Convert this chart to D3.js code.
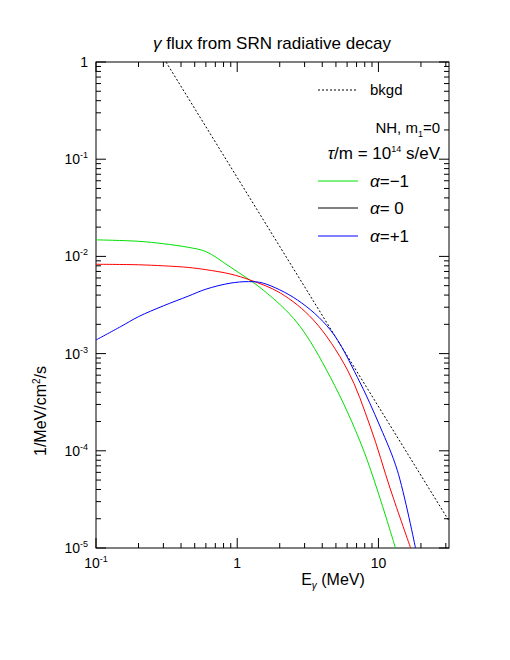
<!DOCTYPE html>
<html><head><meta charset="utf-8">
<script src="https://cdn.jsdelivr.net/npm/d3@7"></script>
<style>body{margin:0;background:#fff}text{font-family:"Liberation Sans",Arial,sans-serif}</style>
</head><body>
<svg id="fig" width="510" height="660"></svg>
<script>
// values
var bkgdE = [0.313, 31.6], bkgdF = [1, 1.9e-5];
var greenE = [0.1, 0.2, 0.3, 0.45, 0.6, 0.89, 1.53, 2.67, 4.57, 7.83, 13.2];
var greenF = [0.0148, 0.0143, 0.0135, 0.0124, 0.0112, 7.8e-3, 4.5e-3, 2.06e-3, 5.7e-4, 1.02e-4, 1.0e-5];
var redE = [0.1, 0.2, 0.3, 0.45, 0.6, 0.89, 1.24, 2.02, 3.46, 6.03, 8.77, 12.2, 16.9];
var redF = [0.0083, 0.0082, 0.0080, 0.0077, 0.0073, 6.6e-3, 5.7e-3, 4.2e-3, 2.22e-3, 6.8e-4, 1.76e-4, 3.95e-5, 1.0e-5];
var blueE = [0.1, 0.15, 0.2, 0.3, 0.45, 0.6, 0.89, 1.2, 1.53, 2.67, 4.57, 7.1, 10.3, 13.6, 18.3];
var blueF = [0.00138, 0.0019, 0.0024, 0.0031, 0.0039, 0.0046, 5.3e-3, 5.5e-3, 5.3e-3, 3.56e-3, 1.75e-3, 5.7e-4, 1.76e-4, 6.3e-5, 1.0e-5];
var xTicks = [0.1, 1, 10], yTicks = [1, 0.1, 0.01, 1e-3, 1e-4, 1e-5];

var svg = d3.select("#fig"),
    L = 96, R = 449, T = 62, B = 548;
var x = d3.scaleLog().domain([0.1, 31.6]).range([L, R]),
    y = d3.scaleLog().domain([1e-5, 1]).range([B, T]);

svg.append("rect").attr("x", L).attr("y", T).attr("width", R - L).attr("height", B - T)
  .attr("fill", "none").attr("stroke", "#000");

var g = svg.append("g");
x.ticks().forEach(function(t) {
  var major = xTicks.indexOf(t) >= 0, len = major ? 10 : 5;
  g.append("line").attr("x1", x(t)).attr("x2", x(t)).attr("y1", B).attr("y2", B - len).attr("stroke", "#000");
  g.append("line").attr("x1", x(t)).attr("x2", x(t)).attr("y1", T).attr("y2", T + len).attr("stroke", "#000");
});
y.ticks().forEach(function(t) {
  var major = yTicks.some(function(v) { return Math.abs(v - t) / v < 1e-6; }), len = major ? 10 : 5;
  g.append("line").attr("x1", L).attr("x2", L + len).attr("y1", y(t)).attr("y2", y(t)).attr("stroke", "#000");
  g.append("line").attr("x1", R).attr("x2", R - len).attr("y1", y(t)).attr("y2", y(t)).attr("stroke", "#000");
});

function pow10(sel, e) {
  sel.append("tspan").text("10");
  sel.append("tspan").attr("dy", -6).attr("font-size", 9).text(e);
}
xTicks.forEach(function(t) {
  var tx = svg.append("text").attr("x", x(t)).attr("y", B + 20).attr("text-anchor", "middle").attr("font-size", 14);
  if (t === 1) tx.text("1"); else if (t === 10) tx.text("10"); else pow10(tx, "-1");
});
yTicks.forEach(function(t) {
  var tx = svg.append("text").attr("x", L - 8).attr("y", y(t) + 5).attr("text-anchor", "end").attr("font-size", 14);
  if (t === 1) tx.text("1"); else pow10(tx, String(Math.round(Math.log10(t))));
});

var line = d3.line().x(function(d) { return x(d[0]); }).y(function(d) { return y(d[1]); }).curve(d3.curveCatmullRom.alpha(0.5));
function series(E, F) { return E.map(function(e, i) { return [e, F[i]]; }); }
var plot = svg.append("g");
plot.append("clipPath").attr("id", "clip").append("rect").attr("x", L).attr("y", T).attr("width", R - L).attr("height", B - T);
var c = plot.append("g").attr("clip-path", "url(#clip)");
c.append("path").attr("d", line(series(bkgdE, bkgdF))).attr("fill", "none").attr("stroke", "#000").attr("stroke-dasharray", "2,2");
c.append("path").attr("d", line(series(greenE, greenF))).attr("fill", "none").attr("stroke", "#00e000");
c.append("path").attr("d", line(series(redE, redF))).attr("fill", "none").attr("stroke", "#ff0000");
c.append("path").attr("d", line(series(blueE, blueF))).attr("fill", "none").attr("stroke", "#0000ff");

// legend
svg.append("line").attr("x1", 318).attr("x2", 358).attr("y1", 90).attr("y2", 90).attr("stroke", "#000").attr("stroke-dasharray", "2,2");
svg.append("text").attr("x", 370).attr("y", 95).attr("font-size", 15).text("bkgd");
var t1 = svg.append("text").attr("x", 440).attr("y", 133).attr("text-anchor", "end").attr("font-size", 15);
t1.append("tspan").text("NH, m");
t1.append("tspan").attr("dy", 4).attr("font-size", 9).text("1");
t1.append("tspan").attr("dy", -4).text("=0");
var t2 = svg.append("text").attr("x", 440).attr("y", 159).attr("text-anchor", "end").attr("font-size", 17);
t2.append("tspan").attr("font-style", "italic").text("τ");
t2.append("tspan").text("/m = 10");
t2.append("tspan").attr("dy", -7).attr("font-size", 9).text("14");
t2.append("tspan").attr("dy", 7).text(" s/eV");
var leg = [["#00e000", "=−1", 181], ["#000000", "= 0", 208], ["#0000ff", "=+1", 236]];
leg.forEach(function(d) {
  svg.append("line").attr("x1", 318).attr("x2", 358).attr("y1", d[2]).attr("y2", d[2]).attr("stroke", d[0]);
  var t = svg.append("text").attr("x", 370).attr("y", d[2] + 6).attr("font-size", 17);
  t.append("tspan").attr("font-style", "italic").text("α");
  t.append("tspan").text(d[1]);
});

svg.append("text").attr("x", 272).attr("y", 49).attr("text-anchor", "middle").attr("font-size", 17)
  .html('<tspan font-style="italic">γ</tspan>  flux from SRN radiative decay');
var xl = svg.append("text").attr("x", 333).attr("y", 585).attr("text-anchor", "middle").attr("font-size", 16);
xl.append("tspan").text("E");
xl.append("tspan").attr("dy", 4).attr("font-size", 10).attr("font-style", "italic").text("γ");
xl.append("tspan").attr("dy", -4).text(" (MeV)");
var yl = svg.append("text").attr("transform", "translate(46,456) rotate(-90)").attr("font-size", 16);
yl.append("tspan").text("1/MeV/cm");
yl.append("tspan").attr("dy", -6).attr("font-size", 10).text("2");
yl.append("tspan").attr("dy", 6).text("/s");
</script>
</body></html>
